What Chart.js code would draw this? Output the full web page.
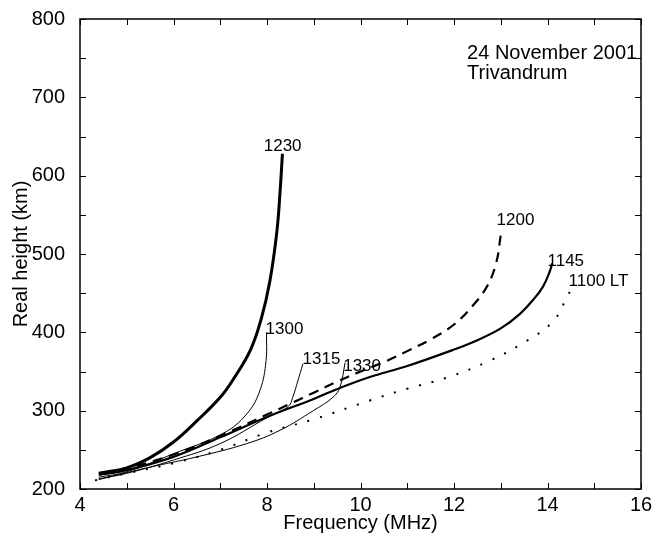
<!DOCTYPE html>
<html lang="en">
<head>
  <meta charset="UTF-8">
  <title>Real height profiles - Trivandrum</title>
  <script src="https://cdn.jsdelivr.net/npm/chart.js"></script>
  <style>
    body { margin: 0; background: #fff; }
    #wrap { width: 662px; height: 542px; }
  </style>
</head>
<body>
  <div id="wrap"><canvas id="chart" width="662" height="542"></canvas></div>

  <script>
    // frequency (MHz) and real height (km), one pair of arrays per sounding time (LT)
    const f1100 = [4.32, 5.0, 6.0, 7.0, 8.0, 9.0, 10.2, 11.0, 11.84, 12.77, 13.55, 14.12, 14.41, 14.52];
    const h1100 = [211, 220, 233, 250, 272, 289, 313, 328, 342, 364, 389, 414, 444, 457];

    const f1145 = [4.4, 5.0, 6.0, 7.0, 8.0, 9.0, 9.56, 10.2, 11.0, 12.0, 12.5, 13.0, 13.4, 13.7, 13.9, 14.05, 14.1];
    const h1145 = [218, 224, 241, 266, 292, 315, 329, 343, 357, 378, 390, 405, 423, 442, 458, 478, 488];

    const f1200 = [4.5, 5.0, 6.0, 7.0, 8.0, 8.5, 9.0, 9.5, 10.0, 10.5, 11.0, 11.5, 12.0, 12.4, 12.7, 12.9, 13.0];
    const h1200 = [220, 226, 244, 268, 295, 309, 323, 337, 350, 362, 376, 391, 410, 434, 458, 488, 524];

    const f1230 = [4.4, 5.0, 5.5, 6.0, 6.5, 7.0, 7.3, 7.65, 7.88, 8.06, 8.21, 8.28, 8.33];
    const h1230 = [220, 227, 240, 260, 287, 317, 342, 378, 418, 465, 528, 580, 628];

    const f1300 = [4.4, 5.0, 6.0, 7.06, 7.57, 7.85, 7.98, 7.99];
    const h1300 = [215, 222, 245, 271, 296, 326, 364, 400];

    const f1315 = [4.4, 5.0, 6.0, 7.0, 8.0, 8.45, 8.55, 8.66, 8.77];
    const h1315 = [213, 220, 237, 258, 291, 305, 317, 338, 360];

    const f1330 = [4.4, 5.43, 6.5, 7.57, 8.28, 8.99, 9.41, 9.56, 9.67];
    const h1330 = [212, 227, 241, 258, 275, 300, 317, 330, 361];

    const curveNames = ['1100 LT', '1145', '1200', '1230', '1300', '1315', '1330'];

    // where each curve name sits (data units, left end of text baseline)
    const labelFreq = [14.45, 14.0, 12.91, 7.93, 7.97, 8.76, 9.63];
    const labelHeight = [459, 485, 537, 631, 398, 360, 351];

    function pts(fs, hs) {
      return fs.map((f, i) => ({ x: f, y: hs[i] }));
    }

    const fontFam = '"Liberation Sans", Arial, Helvetica, sans-serif';

    const base = {
      showLine: true,
      pointRadius: 0,
      borderColor: '#000',
      backgroundColor: '#000',
      fill: false,
      tension: 0.4
    };

    // frame, inward tick marks and the text labels
    const frameAndText = {
      id: 'frameAndText',
      afterDraw(chart) {
        const ctx = chart.ctx;
        const a = chart.chartArea;
        const xs = chart.scales.x;
        const ys = chart.scales.y;
        ctx.save();
        ctx.strokeStyle = '#000';
        ctx.lineWidth = 1.5;
        ctx.strokeRect(a.left, a.top, a.right - a.left, a.bottom - a.top);

        ctx.lineWidth = 1;
        ctx.beginPath();
        xs.ticks.forEach(t => {
          const px = Math.round(xs.getPixelForValue(t.value)) + 0.5;
          ctx.moveTo(px, a.bottom); ctx.lineTo(px, a.bottom - 6);
          ctx.moveTo(px, a.top); ctx.lineTo(px, a.top + 6);
        });
        ys.ticks.forEach(t => {
          const py = Math.round(ys.getPixelForValue(t.value)) + 0.5;
          ctx.moveTo(a.left, py); ctx.lineTo(a.left + 6, py);
          ctx.moveTo(a.right, py); ctx.lineTo(a.right - 6, py);
        });
        ctx.stroke();

        ctx.fillStyle = '#000';
        ctx.textAlign = 'left';
        ctx.textBaseline = 'alphabetic';
        ctx.font = '17px ' + fontFam;
        curveNames.forEach((n, i) => {
          ctx.fillText(n, xs.getPixelForValue(labelFreq[i]), ys.getPixelForValue(labelHeight[i]));
        });

        ctx.font = '20px ' + fontFam;
        ctx.fillText('24 November 2001', xs.getPixelForValue(12.28), ys.getPixelForValue(748.5));
        ctx.fillText('Trivandrum', xs.getPixelForValue(12.28), ys.getPixelForValue(723.5));
        ctx.restore();
      }
    };

    new Chart(document.getElementById('chart'), {
      type: 'scatter',
      data: {
        datasets: [
          Object.assign({}, base, { label: '1100 LT', data: pts(f1100, h1100), borderWidth: 2, borderDash: [2, 11] }),
          Object.assign({}, base, { label: '1145', data: pts(f1145, h1145), borderWidth: 2.2 }),
          Object.assign({}, base, { label: '1200', data: pts(f1200, h1200), borderWidth: 2.2, borderDash: [10, 7] }),
          Object.assign({}, base, { label: '1230', data: pts(f1230, h1230), borderWidth: 3 }),
          Object.assign({}, base, { label: '1300', data: pts(f1300, h1300), borderWidth: 1 }),
          Object.assign({}, base, { label: '1315', data: pts(f1315, h1315), borderWidth: 1 }),
          Object.assign({}, base, { label: '1330', data: pts(f1330, h1330), borderWidth: 1 })
        ]
      },
      options: {
        responsive: false,
        animation: false,
        layout: { padding: { top: 16, right: 21, left: 0, bottom: 0 } },
        plugins: {
          legend: { display: false },
          tooltip: { enabled: false }
        },
        scales: {
          x: {
            type: 'linear',
            min: 4,
            max: 16,
            grid: { display: false },
            border: { display: false },
            ticks: {
              stepSize: 1,
              autoSkip: false,
              maxRotation: 0,
              padding: -4,
              color: '#000',
              font: { family: fontFam, size: 20 },
              callback: v => (v % 2 === 0 ? v : '')
            },
            title: {
              display: true,
              text: 'Frequency (MHz)',
              color: '#000',
              font: { family: fontFam, size: 20 },
              padding: { top: 0, bottom: 7 }
            },
            afterFit: s => { s.height = 53; }
          },
          y: {
            type: 'linear',
            min: 200,
            max: 800,
            grid: { display: false },
            border: { display: false },
            ticks: {
              stepSize: 50,
              autoSkip: false,
              padding: 7,
              color: '#000',
              font: { family: fontFam, size: 20 },
              callback: v => (v % 100 === 0 ? v : '')
            },
            title: {
              display: true,
              text: 'Real height (km)',
              color: '#000',
              font: { family: fontFam, size: 20 },
              padding: { top: 9, bottom: 0 }
            },
            afterFit: s => { s.width = 80; }
          }
        }
      },
      plugins: [frameAndText]
    });
  </script>
</body>
</html>
